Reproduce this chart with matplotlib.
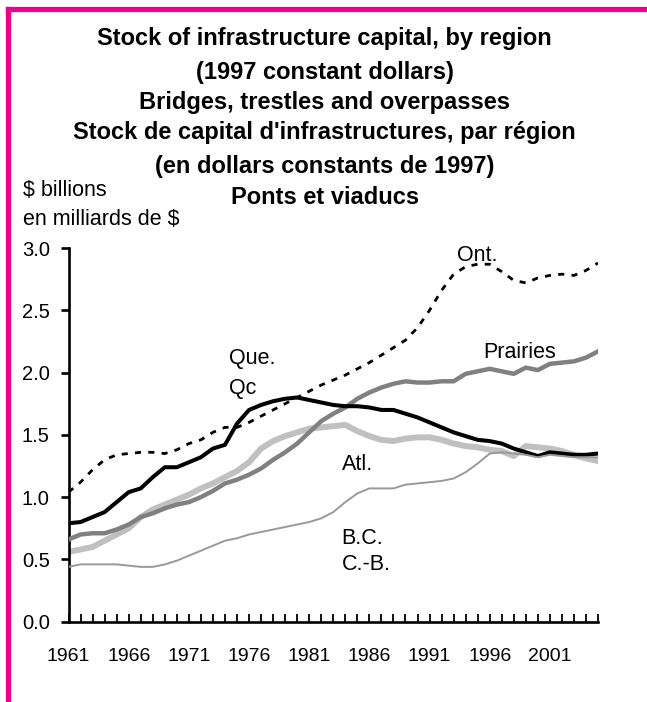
import matplotlib
matplotlib.use('Agg')
import matplotlib.pyplot as plt
from matplotlib.lines import Line2D

plt.rcParams['font.family'] = ['Liberation Sans', 'DejaVu Sans']

years = list(range(1961, 2006))

# $ billions
que = [0.79, 0.80, 0.84, 0.88, 0.96, 1.04, 1.07, 1.16, 1.24, 1.24,
       1.28, 1.32, 1.39, 1.42, 1.59, 1.70, 1.74, 1.77, 1.79, 1.80,
       1.78, 1.76, 1.74, 1.73, 1.73, 1.72, 1.70, 1.70, 1.67, 1.64,
       1.60, 1.56, 1.52, 1.49, 1.46, 1.45, 1.43, 1.39, 1.36, 1.33,
       1.36, 1.35, 1.34, 1.34, 1.35]
ont = [1.04, 1.12, 1.22, 1.30, 1.34, 1.35, 1.36, 1.36, 1.35, 1.38,
       1.43, 1.46, 1.52, 1.56, 1.56, 1.60, 1.65, 1.70, 1.75, 1.80,
       1.85, 1.90, 1.94, 1.98, 2.03, 2.08, 2.14, 2.20, 2.26, 2.36,
       2.50, 2.66, 2.79, 2.85, 2.87, 2.87, 2.81, 2.74, 2.72, 2.76,
       2.78, 2.79, 2.78, 2.82, 2.88]
prairies = [0.66, 0.70, 0.71, 0.71, 0.74, 0.78, 0.84, 0.87, 0.91, 0.94,
            0.96, 1.00, 1.05, 1.11, 1.14, 1.18, 1.23, 1.30, 1.36, 1.43,
            1.52, 1.61, 1.67, 1.72, 1.79, 1.84, 1.88, 1.91, 1.93, 1.92,
            1.92, 1.93, 1.93, 1.99, 2.01, 2.03, 2.01, 1.99, 2.04, 2.02,
            2.07, 2.08, 2.09, 2.12, 2.17]
atl = [0.56, 0.58, 0.60, 0.65, 0.70, 0.75, 0.84, 0.90, 0.94, 0.98,
       1.02, 1.07, 1.11, 1.16, 1.21, 1.28, 1.39, 1.45, 1.49, 1.52,
       1.55, 1.56, 1.57, 1.58, 1.53, 1.49, 1.46, 1.45, 1.47, 1.48,
       1.48, 1.46, 1.43, 1.41, 1.40, 1.38, 1.37, 1.33, 1.41, 1.40,
       1.39, 1.37, 1.34, 1.31, 1.29]
bc = [0.44, 0.46, 0.46, 0.46, 0.46, 0.45, 0.44, 0.44, 0.46, 0.49,
      0.53, 0.57, 0.61, 0.65, 0.67, 0.70, 0.72, 0.74, 0.76, 0.78,
      0.80, 0.83, 0.88, 0.96, 1.03, 1.07, 1.07, 1.07, 1.10, 1.11,
      1.12, 1.13, 1.15, 1.20, 1.27, 1.35, 1.36, 1.35, 1.34, 1.32,
      1.34, 1.33, 1.32, 1.32, 1.32]

title_lines = ['Stock of infrastructure capital, by region',
               '(1997 constant dollars)',
               'Bridges, trestles and overpasses',
               "Stock de capital d'infrastructures, par r\u00e9gion",
               '(en dollars constants de 1997)',
               'Ponts et viaducs']

fig = plt.figure(figsize=(6.47, 7.02), dpi=100)
ax = fig.add_axes([0.1059, 0.1144, 0.8184, 0.5323])

ax.plot(years, atl, color='#c0c0c0', lw=4.3, zorder=2)
ax.plot(years, prairies, color='#808080', lw=3.2, zorder=3)
ax.plot(years, ont, color='black', lw=2.0, dashes=(2.2, 2.6), zorder=4)
ax.plot(years, que, color='black', lw=2.9, zorder=5)
ax.plot(years, bc, color='#999999', lw=1.4, zorder=6)

ax.set_xlim(1961, 2005)
ax.set_ylim(0, 3.0)
ax.set_yticks([0, 0.5, 1.0, 1.5, 2.0, 2.5, 3.0])
ax.set_yticklabels(['%.1f' % v for v in [0, 0.5, 1.0, 1.5, 2.0, 2.5, 3.0]])
ax.set_xticks(years)
ax.set_xticklabels([str(y) if (y - 1961) % 5 == 0 else '' for y in years])

for s in ['top', 'right']:
    ax.spines[s].set_visible(False)
for s in ['left', 'bottom']:
    ax.spines[s].set_linewidth(1.9)
ax.tick_params(axis='x', direction='in', length=5.5, width=1.3, pad=19, labelsize=14)
ax.tick_params(axis='y', direction='out', length=5.5, width=1.9, pad=8, labelsize=14.5)

lab = dict(fontsize=15.5, va='center', ha='left')
ax.text(1993.3, 2.94, 'Ont.', **lab)
ax.text(1995.5, 2.16, 'Prairies', **lab)
ax.text(1974.3, 2.11, 'Que.', **lab)
ax.text(1974.3, 1.87, 'Qc', **lab)
ax.text(1983.7, 1.26, 'Atl.', **lab)
ax.text(1983.7, 0.67, 'B.C.', **lab)
ax.text(1983.7, 0.46, 'C.-B.', **lab)

ys = [38, 72, 102, 133, 167, 197]
for t, yp in zip(title_lines, ys):
    fig.text(0.502, 1 - yp / 702, t, ha='center', va='center',
             fontsize=17, fontweight='bold')
fig.text(23 / 647, 1 - 190 / 702, '$ billions', ha='left', va='center', fontsize=15.5)
fig.text(23 / 647, 1 - 220 / 702, 'en milliards de $', ha='left', va='center', fontsize=15.5)

# pink frame
pink = '#ec008c'
fig.add_artist(Line2D([7.5 / 647, 1.0], [1 - 8.5 / 702] * 2, color=pink, lw=3.8,
                      transform=fig.transFigure))
fig.add_artist(Line2D([7.5 / 647] * 2, [0, 1 - 8.5 / 702], color=pink, lw=3.8,
                      transform=fig.transFigure))

fig.savefig('out.png', dpi=100)
